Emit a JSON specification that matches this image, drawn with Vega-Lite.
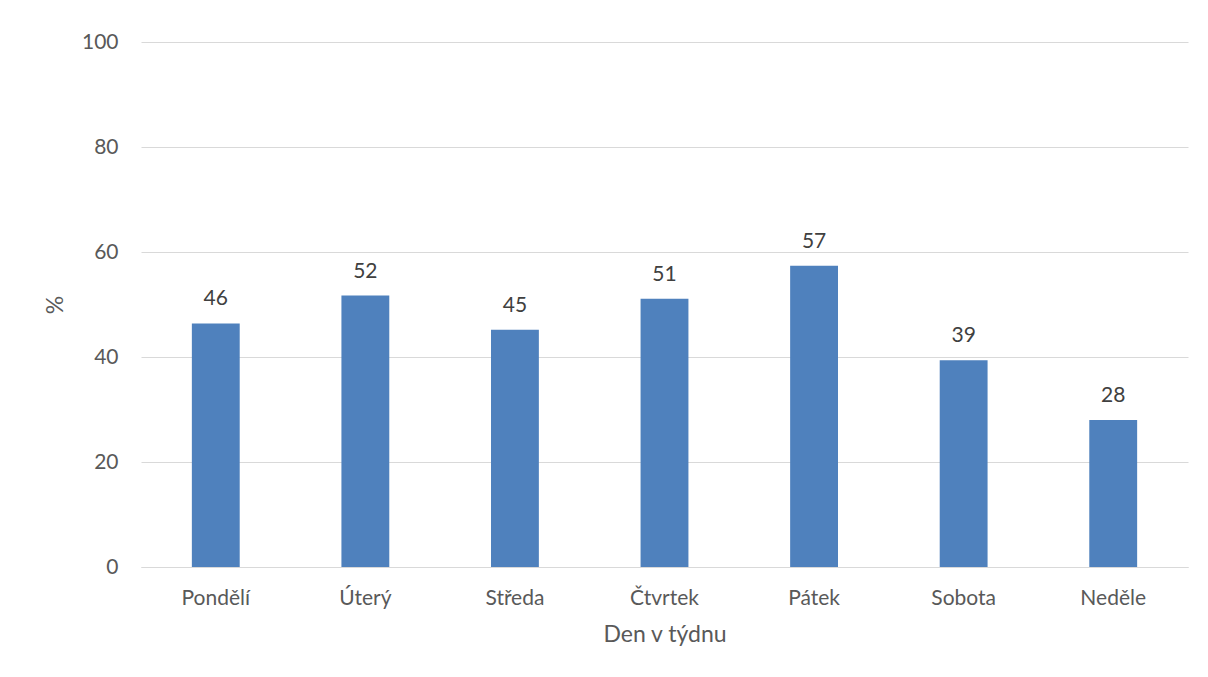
{
  "$schema": "https://vega.github.io/schema/vega-lite/v6.json",
  "autosize": "none",
  "width": 1047,
  "height": 525,
  "padding": {"left": 141, "top": 42, "right": 20, "bottom": 110},
  "background": "white",
  "config": {
    "view": {"stroke": null},
    "font": "Lato",
    "axis": {"labelFont": "Lato", "titleFont": "Lato", "labelColor": "#595959", "titleColor": "#595959", "labelFontSize": 21, "titleFontSize": 23, "titleFontWeight": "normal", "gridColor": "#d9d9d9", "domainColor": "#d9d9d9", "ticks": false}
  },
  "data": {
    "values": [
      {"den": "Pondělí", "pct": 46.4},
      {"den": "Úterý", "pct": 51.7},
      {"den": "Středa", "pct": 45.2},
      {"den": "Čtvrtek", "pct": 51.1},
      {"den": "Pátek", "pct": 57.4},
      {"den": "Sobota", "pct": 39.4},
      {"den": "Neděle", "pct": 28.0}
    ]
  },
  "encoding": {
    "x": {"field": "den", "type": "nominal", "sort": null, "title": "Den v týdnu",
      "scale": {"paddingInner": 0.68, "paddingOuter": 0.34},
      "axis": {"labelAngle": 0, "labelPadding": 20, "titlePadding": 15, "grid": false}},
    "y": {"field": "pct", "type": "quantitative", "title": "%",
      "scale": {"domain": [0, 100]},
      "axis": {"values": [0, 20, 40, 60, 80, 100], "domain": false, "labelPadding": 23, "titlePadding": 14, "grid": true}}
  },
  "layer": [
    {"mark": {"type": "bar", "color": "#4f81bd"}},
    {"mark": {"type": "text", "dy": -24, "fontSize": 21, "color": "#404040", "font": "Lato"},
      "encoding": {"text": {"field": "pct", "type": "quantitative", "format": ".0f"}}}
  ]
}
